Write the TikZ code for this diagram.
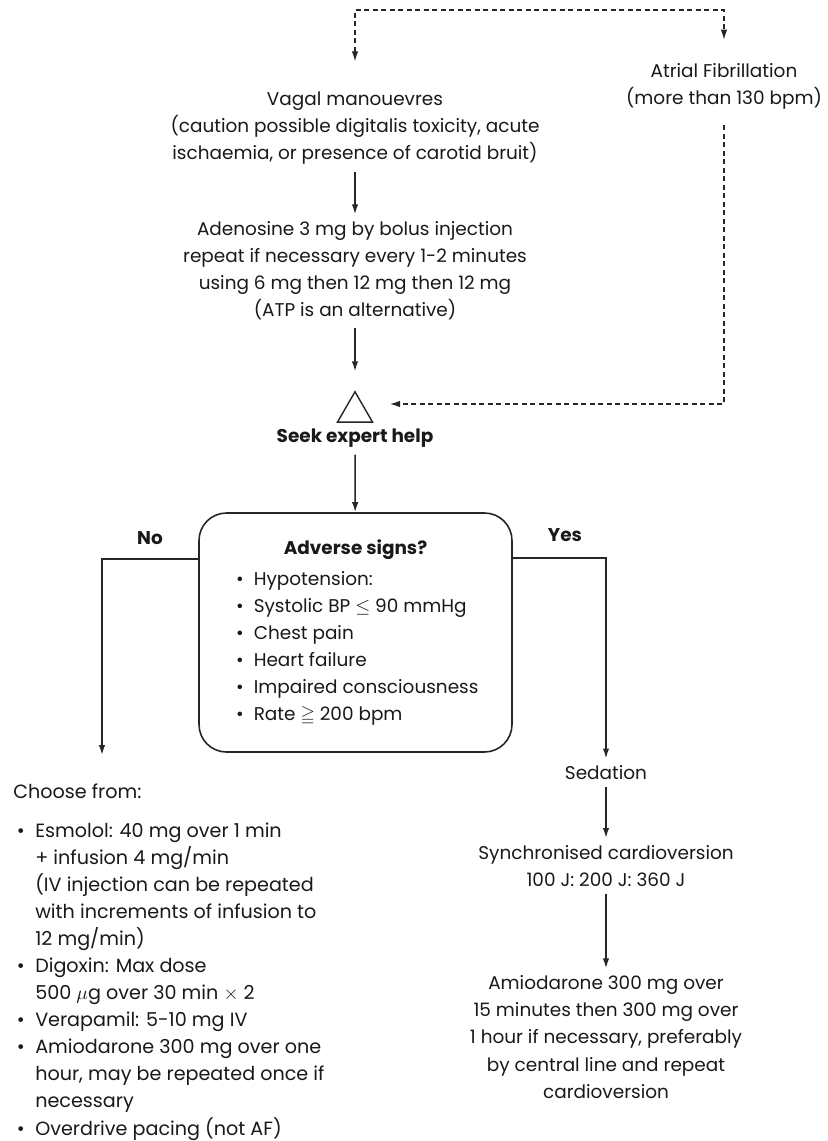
\documentclass[tikz,border=0pt]{standalone}
\usepackage{amsmath,amssymb}
\usepackage{fontspec}
\setmainfont{Poppins}
\usetikzlibrary{arrows.meta,shapes.geometric,calc}
\newcommand{\bul}{\hspace*{2pt}\textbullet\hspace{0.55em}}
\newcommand{\ind}{\hphantom{\bul}}
\tikzset{
  >={Latex[length=2mm,width=1.3mm]},
  txt/.style={align=center,inner sep=4pt,text=black!90,
    font=\fontsize{10.5}{15.4}\selectfont},
  txtb/.style={txt,font=\fontsize{10.5}{15.4}\selectfont\bfseries},
  lbl/.style={txtb,inner sep=1pt},
  flow/.style={->,line width=0.9pt,black!85},
  dashflow/.style={->,line width=0.7pt,black!85,dash pattern=on 1mm off 0.7mm},
  warn/.style={regular polygon,regular polygon sides=3,draw=black!85,
    line width=0.8pt,minimum size=8.1mm,inner sep=0pt},
  signbox/.style={draw=black!85,line width=0.9pt,rounded corners=5.5mm,
    minimum width=62.6mm,minimum height=47.8mm,inner sep=0pt,text=black!90,
    font=\fontsize{10.5}{15.4}\selectfont},
}
\begin{document}
\begin{tikzpicture}[x=0.2mm,y=-0.2mm]
  \fill[white] (0,0) rectangle (828,1141);
  \useasboundingbox (0,0) rectangle (828,1141);

  % main column
  \node[txt] (vagal) at (355,128) {Vagal manouevres\\(caution possible digitalis toxicity, acute\\ischaemia, or presence of carotid bruit)};
  \node[txt] (adeno) at (355,271) {Adenosine 3 mg by bolus injection\\repeat if necessary every 1-2 minutes\\using 6 mg then 12 mg then 12 mg\\(ATP is an alternative)};
  \node[txt] (af) at (724,86) {Atrial Fibrillation\\(more than 130 bpm)};
  \node[warn] (warn) at (355,412) {};
  \node[txtb] (seek) at (355,438) {Seek expert help};

  % adverse signs
  \node[signbox] (signs) at (355.5,632.5) {%
    \begin{tabular}{@{}l@{}}
      \multicolumn{1}{@{}c@{}}{\bfseries Adverse signs?}\\[2pt]
      \bul Hypotension:\\
      \bul Systolic BP $\leq$ 90 mmHg\\
      \bul Chest pain\\
      \bul Heart failure\\
      \bul Impaired consciousness\\
      \bul Rate $\geqq$ 200 bpm
    \end{tabular}};
  \node[lbl] (no) at (150,538) {No};
  \node[lbl] (yes) at (565,535) {Yes};

  % no branch
  \node[txt,align=left,anchor=north west,inner sep=0pt,
    font=\fontsize{10.9}{15.4}\selectfont] (choose) at (13,783) {Choose from:\\[7pt]
    \bul Esmolol: 40 mg over 1 min\\
    \ind + infusion 4 mg/min\\
    \ind (IV injection can be repeated\\
    \ind with increments of infusion to\\
    \ind 12 mg/min)\\
    \bul Digoxin: Max dose\\
    \ind 500 $\mu$g over 30 min $\times$ 2\\
    \bul Verapamil: 5-10 mg IV\\
    \bul Amiodarone 300 mg over one\\
    \ind hour, may be repeated once if\\
    \ind necessary\\
    \bul Overdrive pacing (not AF)};

  % yes branch
  \node[txt] (sedation) at (606,773) {Sedation};
  \node[txt] (sync) at (606,866) {Synchronised cardioversion\\100 J: 200 J: 360 J};
  \node[txt] (amio) at (606,1037) {Amiodarone 300 mg over\\15 minutes then 300 mg over\\1 hour if necessary, preferably\\by central line and repeat\\cardioversion};

  \coordinate (split) at (540,10);
  \coordinate (nojoin) at (102,559);
  \coordinate (noend) at (102,755);
  \coordinate (yesjoin) at (606,558);

  % connectors
  \draw[dashflow,<->] ([yshift=4.6mm]vagal.north) |- (split) -| ([yshift=3.2mm]af.north);
  \draw[dashflow,shorten <=1.8mm,shorten >=4.5mm] (af.south) |- ([yshift=1.6mm]warn.east);
  \draw[flow] (vagal) -- (adeno);
  \draw[flow,shorten >=3.8mm] (adeno) -- (warn.north);
  \draw[flow] (seek) -- (signs);
  \draw[flow] (signs.west |- nojoin) -- (nojoin) -- (noend);
  \draw[flow] (signs.east |- yesjoin) -- (yesjoin) -- (sedation);
  \draw[flow] (sedation) -- (sync);
  \draw[flow] (sync) -- (amio);
\end{tikzpicture}
\end{document}
